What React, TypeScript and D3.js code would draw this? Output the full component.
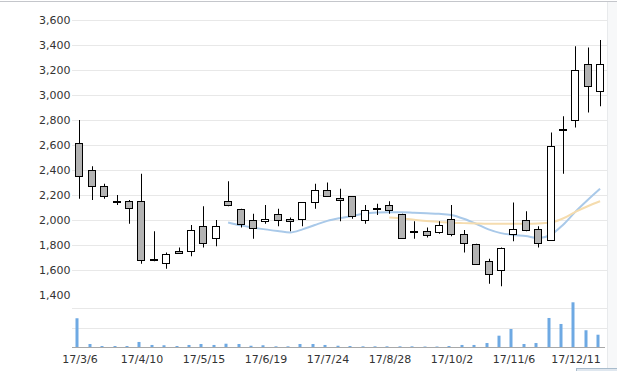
import React from "react";
import * as d3 from "d3";

const weeks = [
  "2017-03-06","2017-03-13","2017-03-20","2017-03-27","2017-04-03","2017-04-10","2017-04-17","2017-04-24",
  "2017-05-01","2017-05-08","2017-05-15","2017-05-22","2017-05-29","2017-06-05","2017-06-12","2017-06-19",
  "2017-06-26","2017-07-03","2017-07-10","2017-07-17","2017-07-24","2017-07-31","2017-08-07","2017-08-14",
  "2017-08-21","2017-08-28","2017-09-04","2017-09-11","2017-09-18","2017-09-25","2017-10-02","2017-10-09",
  "2017-10-16","2017-10-23","2017-10-30","2017-11-06","2017-11-13","2017-11-20","2017-11-27","2017-12-04",
  "2017-12-11","2017-12-18","2017-12-25",
];
const openP = [2620,2400,2270,2150,2150,2150,1690,1660,1750,1750,1950,1860,2150,2090,2000,1990,2050,2010,2010,2140,2240,2180,2190,2000,2090,2120,2050,1910,1910,1900,2010,1890,1810,1670,1600,1890,2000,1930,1840,2720,2800,3250,3030];
const highP = [2800,2430,2290,2200,2160,2370,1910,1740,1780,1960,2110,2000,2310,2090,2050,2120,2090,2020,2140,2290,2300,2250,2190,2120,2130,2150,2050,1990,1940,1990,2120,1920,1810,1690,1780,2140,2070,1950,2700,2830,3390,3380,3440];
const lowP = [2170,2160,2170,2120,1970,1650,1670,1610,1730,1710,1780,1790,2110,1940,1850,1970,1950,1910,1950,2090,2190,1990,2010,1970,2040,2050,1860,1850,1860,1890,1870,1740,1650,1490,1470,1830,1910,1780,1840,2370,2740,2860,2910];
const closeP = [2350,2270,2190,2150,2100,1680,1680,1730,1740,1920,1820,1950,2120,1970,1940,2010,2000,1990,2140,2240,2190,2160,2030,2080,2100,2080,1860,1910,1880,1960,1890,1820,1650,1570,1780,1930,1920,1820,2590,2730,3200,3070,3250];
const volume = [297,31,10,10,10,52,21,18,10,21,31,21,34,31,13,18,7,7,31,31,21,13,10,7,7,7,7,7,5,5,10,21,21,41,117,186,31,41,300,238,462,173,127];
const maShortStart = 12;
const maShort = [1980,1957,1940,1925,1912,1900,1925,1960,1993,2015,2032,2052,2060,2062,2062,2058,2054,2050,2040,2010,1970,1925,1895,1880,1872,1855,1880,1960,2065,2160,2250];
const maLongStart = 25;
const maLong = [2020,2012,2002,1992,1985,1978,1975,1972,1970,1970,1970,1970,1972,1980,2012,2065,2110,2150];
const priceTicks = [1400,1600,1800,2000,2200,2400,2600,2800,3000,3200,3400,3600];
const priceGrid = [1600,1800,2000,2200,2400,2600,2800,3000,3200,3400,3600];
const volGrid = [200,400];
const xTickLabels = ["17/3/6","17/4/10","17/5/15","17/6/19","17/7/24","17/8/28","17/10/2","17/11/6","17/12/11"];
const xTickIdx = [0,5,10,15,20,25,30,35,40];

const W = 617, H = 371;
const FONT = "'DejaVu Sans', Verdana, sans-serif";

export default function App() {
  const dates = weeks.map((d) => d3.timeParse("%Y-%m-%d")(d) as Date);
  const x = d3.scaleTime().domain([dates[0], dates[dates.length - 1]]).range([79.3, 600.1]);
  const y = d3.scaleLinear().domain([1400, 3600]).range([295, 20]);
  const yv = d3.scaleLinear().domain([0, 400]).range([347, 308.3]);
  const cx = (i: number) => Math.round(x(dates[i]));

  const line = d3.line<[number, number]>().x((d) => d[0]).y((d) => d[1]).curve(d3.curveMonotoneX);
  const shortPts: [number, number][] = maShort.map((v, k) => [x(dates[k + maShortStart]), y(v)]);
  const longPts: [number, number][] = maLong.map((v, k) => [x(dates[k + maLongStart]), y(v)]);

  return (
    <svg width={W} height={H} style={{ position: "absolute", left: 0, top: 0, background: "#fff" }}>
      <rect x={607} y={2} width={10} height={H} fill="#f7f8f9" />
      <line x1={607.5} x2={607.5} y1={2} y2={H} stroke="#e8eaec" />
      <line x1={0} x2={W} y1={1.5} y2={1.5} stroke="#c4c6cb" />
      {priceGrid.map((v) => (
        <line key={"g" + v} x1={72} x2={607} y1={Math.round(y(v)) + 0.5} y2={Math.round(y(v)) + 0.5} stroke="#e8e8e8" />
      ))}
      {volGrid.map((v) => (
        <line key={"vg" + v} x1={72} x2={607} y1={Math.round(yv(v)) + 0.5} y2={Math.round(yv(v)) + 0.5} stroke="#e8e8e8" />
      ))}
      {priceTicks.map((v) => (
        <text key={"t" + v} x={70.5} y={y(v)} dy="0.35em" textAnchor="end" fontFamily={FONT} fontSize={11} fill="#333">
          {d3.format(",")(v)}
        </text>
      ))}
      {volume.map((v, i) => {
        const top = yv(v);
        return <rect key={"v" + i} x={cx(i) - 3.5} y={top} width={3} height={Math.max(0.5, 347 - top)} fill="#6ea9e3" />;
      })}
      <line x1={72} x2={605} y1={347.5} y2={347.5} stroke="#a8a8a8" />
      <path d={line(shortPts) || ""} fill="none" stroke="#a9c9e9" strokeWidth={2} />
      <path d={line(longPts) || ""} fill="none" stroke="#f5dcae" strokeWidth={2} />
      {openP.map((o, i) => {
        const c = closeP[i];
        const xc = cx(i);
        const top = Math.round(y(Math.max(o, c)));
        const bot = Math.round(y(Math.min(o, c)));
        const h = Math.max(1, bot - top);
        const up = c > o;
        return (
          <g key={"c" + i}>
            <line x1={xc + 0.5} x2={xc + 0.5} y1={y(highP[i])} y2={y(lowP[i])} stroke="#000" />
            <rect x={xc - 3.5} y={top + 0.5} width={7} height={h} fill={up ? "#fff" : "#b3b3b3"} stroke="#000" />
          </g>
        );
      })}
      {xTickIdx.map((i, k) => (
        <text key={"x" + i} x={x(dates[i]) + 0.7} y={363} textAnchor="middle" fontFamily={FONT} fontSize={11} fill="#333">
          {xTickLabels[k]}
        </text>
      ))}
      <rect x={576.5} y={368.5} width={45} height={6} fill="#dfe7ef" stroke="#a9bccc" />
    </svg>
  );
}
